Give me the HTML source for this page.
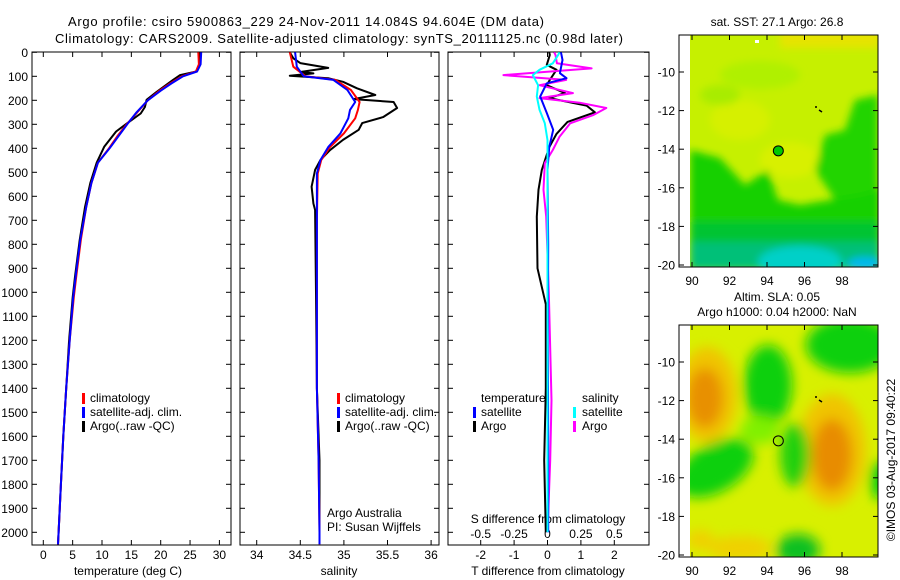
<!DOCTYPE html>
<html><head><meta charset="utf-8"><style>
html,body{margin:0;padding:0;background:#fff;}
svg{display:block;font-family:"Liberation Sans",sans-serif;}
</style></head><body>
<svg id="fig" width="900" height="580" viewBox="0 0 900 580" xmlns="http://www.w3.org/2000/svg">
<defs>
<filter id="blur4" x="-20%" y="-20%" width="140%" height="140%"><feGaussianBlur stdDeviation="4"/></filter>
<filter id="blur8" x="-30%" y="-30%" width="160%" height="160%"><feGaussianBlur stdDeviation="6"/></filter>
<clipPath id="clipTop"><rect x="690" y="35" width="188" height="232"/></clipPath>
<clipPath id="clipBot"><rect x="690" y="325" width="188" height="232"/></clipPath>
<clipPath id="clipP1"><rect x="32" y="52" width="199" height="493"/></clipPath>
<clipPath id="clipP2"><rect x="240" y="52" width="199" height="493"/></clipPath>
<clipPath id="clipP3"><rect x="448" y="52" width="201" height="493"/></clipPath>
</defs>
<text x="68" y="26" font-size="13" textLength="476">Argo profile: csiro 5900863_229 24-Nov-2011 14.084S 94.604E (DM data)</text>
<text x="55" y="43" font-size="13" textLength="568">Climatology: CARS2009. Satellite-adjusted climatology: synTS_20111125.nc (0.98d later)</text>

<g id="p1"></g>
<g id="p2"></g>
<g id="p3"></g>

<!-- top map -->
<g>
<text x="777" y="26" font-size="12" text-anchor="middle">sat. SST: 27.1  Argo: 26.8</text>
<g clip-path="url(#clipTop)">
<rect x="690" y="35" width="188" height="232" fill="#c6f000"/>
<g filter="url(#blur4)">
<rect x="780" y="30" width="100" height="18" fill="#e6e400"/>
<ellipse cx="740" cy="120" rx="30" ry="20" fill="#d6f000"/>
<ellipse cx="790" cy="160" rx="30" ry="18" fill="#d8f000"/>
<ellipse cx="760" cy="75" rx="40" ry="14" fill="#b0f000"/>
<ellipse cx="720" cy="95" rx="20" ry="10" fill="#a8ec00"/>
<polygon points="878,95 855,100 845,130 825,135 815,170 835,200 878,200" fill="#20d400"/>
<polygon points="690,150 720,158 745,185 768,170 778,200 800,205 830,200 860,195 880,190 880,270 690,270" fill="#18d000"/>
<rect x="690" y="222" width="190" height="48" fill="#00c430"/>
<rect x="690" y="242" width="190" height="28" fill="#00c078"/>
<ellipse cx="800" cy="262" rx="42" ry="16" fill="#00d0c8"/>
<ellipse cx="865" cy="264" rx="18" ry="7" fill="#00b8f0"/>
</g>
<rect x="755" y="40" width="4" height="3" fill="#fff"/>
</g>
<rect x="679" y="35" width="199" height="232" fill="none" stroke="#000" stroke-width="1"/>
</g>

<!-- bottom map -->
<g>
<text x="777" y="301" font-size="12" text-anchor="middle">Altim. SLA: 0.05</text>
<text x="777" y="316" font-size="12" text-anchor="middle">Argo h1000: 0.04 h2000: NaN</text>
<g clip-path="url(#clipBot)">
<rect x="690" y="325" width="188" height="232" fill="#d8f000"/>
<g filter="url(#blur8)">
<ellipse cx="707" cy="395" rx="30" ry="48" fill="#f0c400"/>
<ellipse cx="705" cy="398" rx="18" ry="30" fill="#e89000"/>
<ellipse cx="832" cy="450" rx="34" ry="56" fill="#f0c400"/>
<ellipse cx="832" cy="455" rx="20" ry="36" fill="#e88c00"/>
<ellipse cx="768" cy="385" rx="24" ry="40" fill="#10d010"/>
<ellipse cx="715" cy="468" rx="42" ry="24" fill="#10d010" transform="rotate(-30 715 468)"/>
<ellipse cx="795" cy="455" rx="15" ry="32" fill="#20d010"/>
<ellipse cx="850" cy="345" rx="44" ry="28" fill="#10d010"/>
<ellipse cx="798" cy="550" rx="22" ry="16" fill="#10c020"/>
<ellipse cx="880" cy="480" rx="10" ry="20" fill="#10d010"/>
<ellipse cx="760" cy="430" rx="20" ry="14" fill="#80f000"/>
<ellipse cx="740" cy="548" rx="32" ry="12" fill="#f0d000"/>
<ellipse cx="700" cy="540" rx="14" ry="10" fill="#f0d000"/>
</g>
</g>
<rect x="679" y="325" width="199" height="232" fill="none" stroke="#000" stroke-width="1"/>
</g>
<g id="maps"></g>
<text x="0" y="0" font-size="12" transform="translate(895,460) rotate(-90)" text-anchor="middle">©IMOS 03-Aug-2017 09:40:22</text>
</svg>
<script>
// ---------------- data ----------------
const depthTicks = [0,100,200,300,400,500,600,700,800,900,1000,1100,1200,1300,1400,1500,1600,1700,1800,1900,2000];
const tempTicks = [0,5,10,15,20,25,30];
const salTicks = [34,34.5,35,35.5,36];
const tdiffTicks = [-2,-1,0,1,2];
const sdiffTicks = [-0.5,-0.25,0,0.25,0.5];
const sdiffTickLabels = ["-0.5","-0.25","0","0.25","0.5"];

const climDepth = [0,50,80,100,130,160,200,250,300,350,400,460,545,645,780,935,1020,1200,1400,1600,1800,2000,2050];
const tempClimRed = [26.4,26.5,26.0,23.6,21.6,19.8,17.8,16.0,14.2,12.6,11.2,9.3,8.2,7.3,6.4,5.6,5.2,4.5,3.9,3.4,3.0,2.6,2.5];
const tempClimBlue = [26.9,26.8,26.2,23.8,21.8,20.0,17.8,15.9,14.3,12.8,11.3,9.3,8.2,7.3,6.3,5.5,5.1,4.5,3.9,3.4,3.0,2.6,2.5];
const argoTDepth = [0,60,80,95,115,165,198,228,255,290,330,393,460,545,645,782,935,1020,1200,1400,1600,1800,2000,2050];
const tempArgo = [26.7,26.5,26.1,23.3,22.1,19.3,17.6,17.3,16.6,14.6,12.4,10.4,9.1,8.0,7.1,6.2,5.4,5.0,4.4,3.9,3.4,3.0,2.6,2.5];

const salClimDepth = [0,60,100,115,157,207,240,275,338,395,449,505,700,1000,1400,1700,2000,2050];
const salClimBlue = [34.44,34.46,34.54,34.88,35.04,35.13,35.07,35.05,34.96,34.82,34.73,34.69,34.69,34.69,34.69,34.71,34.72,34.72];
const salClimRed = [34.38,34.42,34.56,34.90,35.08,35.18,35.16,35.13,35.0,34.84,34.74,34.70,34.69,34.69,34.69,34.71,34.72,34.72];
const argoSDepth = [0,25,45,65,82,88,98,108,123,150,178,195,207,232,270,295,323,365,408,449,490,560,630,657,1000,1400,1700,2000];
const salArgo = [34.38,34.42,34.5,34.82,34.5,34.65,34.38,34.82,34.99,35.15,35.36,35.11,35.57,35.61,35.45,35.21,35.17,34.99,34.84,34.73,34.67,34.63,34.65,34.67,34.68,34.69,34.72,34.72];

const dTSatDepth = [0,11,32,87,108,129,184,253,323,396,490,800,1200,1600,2000];
const dTSat = [0.40,0.42,0.45,0.37,0.57,-0.02,-0.22,-0.02,0.17,0.05,0.0,0.02,0.01,0.02,0.02];
const dTArgoDepth = [0,11,52,73,115,137,170,191,222,250,290,340,396,490,573,685,900,1050,1400,1700,2000];
const dTArgo = [0.05,0.07,-0.02,0.27,0.07,-0.02,0.52,0.05,1.17,1.42,0.6,0.27,0.05,-0.17,-0.27,-0.32,-0.3,-0.05,-0.05,-0.1,-0.05];
const dSSatDepth = [0,11,46,73,95,137,184,239,296,366,462,900,1400,2000];
const dSSat = [0.09,0.08,0.04,-0.06,-0.11,-0.07,-0.08,-0.06,-0.02,0.0,0.0,0.0,0.0,0.0];
const dSArgoDepth = [0,11,46,67,95,115,137,170,191,210,232,262,296,352,407,462,573,685,1000,1450,1700,2000];
const dSArgo = [0.05,0.06,0.07,0.33,-0.33,0.14,-0.06,0.19,-0.06,0.24,0.44,0.34,0.17,0.09,0.04,-0.02,-0.03,-0.01,0.01,0.03,0.02,0.0];

const mapLonTicks = [90,92,94,96,98];
const mapLatTicks = [-10,-12,-14,-16,-18,-20];
const argoLon = [94.604];
const argoLat = [-14.084];

// ---------------- helpers ----------------
const NS = "http://www.w3.org/2000/svg";
function mk(tag, attrs, parent){
  const e = document.createElementNS(NS, tag);
  for (const k in attrs) e.setAttribute(k, attrs[k]);
  parent.appendChild(e);
  return e;
}
const yD = d => 52.3 + d*0.24;
const xT = t => 43.3 + t*5.87;
const xS = s => 256.7 + (s-34)*87.2;
const xDT = v => 547.5 + v*33.4;
const xDS = v => 547.5 + v*133.6;

function frame(g, x0, x1, yTop, yBot, xs, ticksX){
  const r = mk("rect",{x:x0,y:yTop,width:x1-x0,height:yBot-yTop,fill:"none",stroke:"#000","stroke-width":1},g);
  
  
  depthTicks.forEach(d=>{
    const y = yD(d);
    const t1 = mk("line",{x1:x0,x2:x0+5,y1:y,y2:y,stroke:"#000"},g);
    
    
    const t2 = mk("line",{x1:x1-5,x2:x1,y1:y,y2:y,stroke:"#000"},g);
    
    
  });
  ticksX.forEach(v=>{
    const x = xs(v);
    const a = mk("line",{x1:x,x2:x,y1:yTop,y2:yTop+5,stroke:"#000"},g);
    
    
    const b = mk("line",{x1:x,x2:x,y1:yBot-5,y2:yBot,stroke:"#000"},g);
    
    
  });
}
function line(g, xs, vals, depths, color, name, clip){
  const pts = vals.map((v,i)=>xs(v).toFixed(1)+","+yD(depths[i]).toFixed(1)).join(" ");
  const p = mk("polyline",{points:pts,fill:"none",stroke:color,"stroke-width":2,"clip-path":"url(#"+clip+")","stroke-linejoin":"round"},g);
  
  
}
function txt(g, x, y, s, name, anchor, size){
  const t = mk("text",{x:x,y:y,"font-size":size||12,"text-anchor":anchor||"start"},g);
  t.textContent = s;
  
  
  return t;
}
function legendBar(g, x, y, color){
  const r = mk("rect",{x:x,y:y,width:3,height:11,fill:color},g);
  
  
}

// ---------------- panel 1 ----------------
const p1 = document.getElementById("p1");
depthTicks.forEach(d=>txt(p1, 28, yD(d)+4.5, String(d), 'depth-tick-label', 'end'));
frame(p1, 32, 231, 52, 545, xT, tempTicks);
tempTicks.forEach(t=>txt(p1, xT(t), 559, String(t), 'temperature-tick-label', 'middle'));
txt(p1, 128, 575, "temperature (deg C)", 'temperature-axis-title', 'middle');
line(p1, xT, tempArgo, argoTDepth, "#000", 'argo-temperature-line', 'clipP1');
line(p1, xT, tempClimRed, climDepth, "#f00", 'climatology-temperature-line', 'clipP1');
line(p1, xT, tempClimBlue, climDepth, "#00f", 'satellite-temperature-line', 'clipP1');
legendBar(p1, 82, 393, "#f00"); txt(p1, 90, 402, "climatology", 'legend-climatology');
legendBar(p1, 82, 407, "#00f"); txt(p1, 90, 416, "satellite-adj. clim.", 'legend-satellite');
legendBar(p1, 82, 421, "#000"); txt(p1, 90, 430, "Argo(..raw -QC)", 'legend-argo');

// ---------------- panel 2 ----------------
const p2 = document.getElementById("p2");
frame(p2, 240, 439, 52, 545, xS, salTicks);
salTicks.forEach(s=>txt(p2, xS(s), 559, String(s), 'salinity-tick-label', 'middle'));
txt(p2, 339, 575, "salinity", 'salinity-axis-title', 'middle');
line(p2, xS, salArgo, argoSDepth, "#000", 'argo-salinity-line', 'clipP2');
line(p2, xS, salClimRed, salClimDepth, "#f00", 'climatology-salinity-line', 'clipP2');
line(p2, xS, salClimBlue, salClimDepth, "#00f", 'satellite-salinity-line', 'clipP2');
legendBar(p2, 337, 393, "#f00"); txt(p2, 345, 402, "climatology", 'legend-climatology');
legendBar(p2, 337, 407, "#00f"); txt(p2, 345, 416, "satellite-adj. clim.", 'legend-satellite');
legendBar(p2, 337, 421, "#000"); txt(p2, 345, 430, "Argo(..raw -QC)", 'legend-argo');
txt(p2, 327, 517, "Argo Australia", 'credit-argo-australia');
txt(p2, 327, 531, "PI: Susan Wijffels", 'credit-pi');

// ---------------- panel 3 ----------------
const p3 = document.getElementById("p3");
frame(p3, 448, 649, 52, 545, xDT, tdiffTicks);
tdiffTicks.forEach(t=>txt(p3, xDT(t), 559, String(t), 'tdiff-tick-label', 'middle'));
sdiffTicks.forEach((s,i)=>txt(p3, xDS(s), 538, sdiffTickLabels[i], 'sdiff-tick-label', 'middle'));
txt(p3, 548, 575, "T difference from climatology", 'tdiff-axis-title', 'middle');
txt(p3, 548, 523, "S difference from climatology", 'sdiff-axis-title', 'middle');
line(p3, xDT, dTArgo, dTArgoDepth, "#000", 'argo-tdiff-line', 'clipP3');
line(p3, xDS, dSArgo, dSArgoDepth, "#f0f", 'argo-sdiff-line', 'clipP3');
line(p3, xDT, dTSat, dTSatDepth, "#00f", 'satellite-tdiff-line', 'clipP3');
line(p3, xDS, dSSat, dSSatDepth, "#0ff", 'satellite-sdiff-line', 'clipP3');
txt(p3, 481, 402, "temperature", 'legend-temperature-heading');
txt(p3, 582, 402, "salinity", 'legend-salinity-heading');
legendBar(p3, 473, 407, "#00f"); txt(p3, 481, 416, "satellite", 'legend-t-satellite');
legendBar(p3, 473, 421, "#000"); txt(p3, 481, 430, "Argo", 'legend-t-argo');
legendBar(p3, 573, 407, "#0ff"); txt(p3, 582, 416, "satellite", 'legend-s-satellite');
legendBar(p3, 573, 421, "#f0f"); txt(p3, 582, 430, "Argo", 'legend-s-argo');

// ---------------- map axes ----------------
const mg = document.getElementById("maps");
const xLon = lon => 692 + (lon-90)*18.75;
[0,290].forEach((off,mi)=>{
  const yLat = lat => 72 + off + (-10 - lat)*19.3;
  mapLatTicks.forEach(l=>{
    txt(mg, 675, yLat(l)+4.5, String(l), 'map-lat-label', 'end');
    const a = mk("line",{x1:679,x2:684,y1:yLat(l),y2:yLat(l),stroke:"#000"},mg);
    
    
    const b = mk("line",{x1:873,x2:878,y1:yLat(l),y2:yLat(l),stroke:"#000"},mg);
    
    
  });
  mapLonTicks.forEach(l=>{
    txt(mg, xLon(l), 285+off, String(l), 'map-lon-label', 'middle');
    const a = mk("line",{x1:xLon(l),x2:xLon(l),y1:35+off,y2:40+off,stroke:"#000"},mg);
    
    
    const b = mk("line",{x1:xLon(l),x2:xLon(l),y1:262+off,y2:267+off,stroke:"#000"},mg);
    
    
  });
  argoLon.forEach((lon,i)=>{
    const c = mk("circle",{cx:xLon(lon),cy:yLat(argoLat[i]),r:5,fill:mi===0?"#00c800":"none",stroke:"#000","stroke-width":1},mg);
    
    
  });
  const m = mk("path",{d:`M815,${107+off} h2 M819,${110+off} l3,2`,stroke:"#000","stroke-width":1.5},mg);
  
  
});
</script>
</body></html>
